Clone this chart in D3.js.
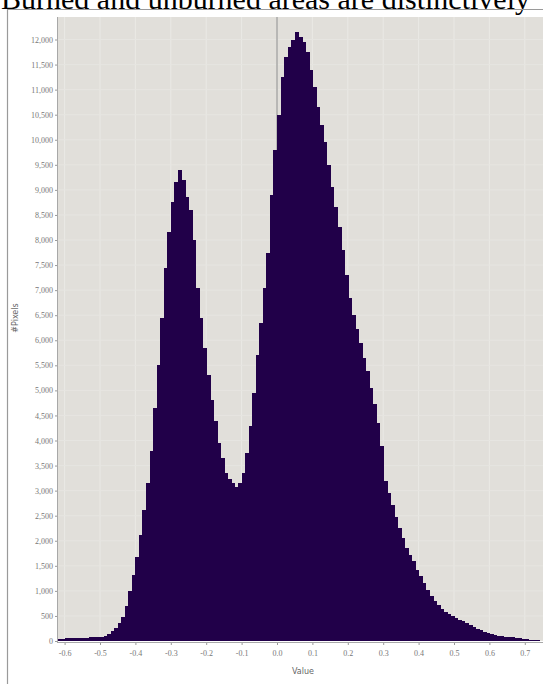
<html>
<head>
<meta charset="utf-8">
<script src="https://cdn.jsdelivr.net/npm/d3@7"></script>
<style>
  body { margin: 0; background: #fff; }
</style>
</head>
<body>
<script>
var width = 543
var height = 684

// histogram: lower edge of each 0.01 bin and its pixel count
var binStart = -0.62
var binWidth = 0.01
var counts = [
  40, 45, 50, 50, 55, 55, 60, 60, 65, 70,
  70, 75, 80, 90, 130, 190, 260, 350, 480, 700,
  1000, 1320, 1680, 2120, 2620, 3150, 3800, 4650, 5500, 6450,
  7450, 8150, 8750, 9150, 9400, 9200, 8850, 8600, 8000, 7050,
  6450, 5850, 5300, 4800, 4380, 3950, 3650, 3350, 3230, 3150,
  3080, 3150, 3350, 3750, 4280, 4950, 5700, 6350, 7050, 7750,
  8900, 9800, 10500, 11250, 11650, 11850, 12000, 12150, 12050, 11950,
  11750, 11400, 11050, 10650, 10300, 9950, 9500, 9050, 8650, 8250,
  7800, 7300, 6850, 6500, 6230, 5950, 5650, 5380, 5050, 4720,
  4350, 3900, 3200, 2950, 2720, 2480, 2260, 2050, 1860, 1720,
  1600, 1420, 1300, 1150, 1020, 900, 800, 720, 640, 580,
  530, 490, 450, 420, 390, 350, 310, 280, 240, 210,
  180, 160, 140, 120, 105, 95, 85, 80, 75, 65,
  55, 45, 30, 20, 15, 10, 8
]
var xTicks = [-0.6, -0.5, -0.4, -0.3, -0.2, -0.1, 0.0, 0.1, 0.2, 0.3, 0.4, 0.5, 0.6, 0.7]
var yTicks = d3.range(0, 12001, 500)

var bins = counts.map(function(c, i) {
  return {x0: binStart + i * binWidth, x1: binStart + (i + 1) * binWidth, n: c}
})

var plot = {left: 58, top: 17, right: 543, bottom: 641}

var svg = d3.select("body").append("svg")
  .attr("width", width)
  .attr("height", height)

// title, cut at the top edge as in the source image
svg.append("text")
  .attr("x", 1)
  .attr("y", 9)
  .attr("font-family", "Liberation Serif, Times New Roman, serif")
  .attr("font-size", 30)
  .attr("fill", "#000")
  .text("Burned and unburned areas are distinctively")

// outer frame
svg.append("path")
  .attr("d", "M7.5," + height + "V9.5H" + width)
  .attr("fill", "none")
  .attr("stroke", "#9a9a9a")
  .attr("stroke-width", 1.2)

var scalex = d3.scaleLinear().domain([-0.6, 0.7]).range([64.6, 524.8])
var scaley = d3.scaleLinear().domain([0, 12000]).range([plot.bottom, 39.5])

svg.append("defs").append("clipPath").attr("id", "clip")
  .append("rect")
  .attr("x", plot.left).attr("y", plot.top)
  .attr("width", plot.right - plot.left).attr("height", plot.bottom - plot.top)

var g = svg.append("g").attr("clip-path", "url(#clip)")

g.append("rect")
  .attr("x", plot.left).attr("y", plot.top)
  .attr("width", plot.right - plot.left).attr("height", plot.bottom - plot.top)
  .attr("fill", "#e1dfda")

// faint grid
g.selectAll(".vgrid").data(xTicks).enter().append("line")
  .attr("x1", d => scalex(d)).attr("x2", d => scalex(d))
  .attr("y1", plot.top).attr("y2", plot.bottom)
  .attr("stroke", "#eae9e5").attr("stroke-width", 1)
g.selectAll(".hgrid").data(yTicks).enter().append("line")
  .attr("x1", plot.left).attr("x2", plot.right)
  .attr("y1", d => scaley(d)).attr("y2", d => scaley(d))
  .attr("stroke", "#e6e5e1").attr("stroke-width", 1)

// zero marker
g.append("line")
  .attr("x1", scalex(0)).attr("x2", scalex(0))
  .attr("y1", plot.top).attr("y2", plot.bottom)
  .attr("stroke", "#8a8a8a").attr("stroke-width", 1)

g.selectAll(".bar").data(bins).enter().append("rect")
  .attr("class", "bar")
  .attr("x", d => scalex(d.x0))
  .attr("width", d => scalex(d.x1) - scalex(d.x0) + 0.8)
  .attr("y", d => scaley(d.n))
  .attr("height", d => plot.bottom - scaley(d.n))
  .attr("fill", "#210049")
  .attr("shape-rendering", "crispEdges")

// axes
var fmtY = d3.format(",")
var fmtX = function(d) { return d3.format(".1f")(d).replace("\u2212", "-") }

var yAxis = d3.axisLeft(scaley).tickValues(yTicks).tickSize(3).tickPadding(2).tickFormat(fmtY)
var xAxis = d3.axisBottom(scalex).tickValues(xTicks).tickSize(3).tickPadding(5).tickFormat(fmtX)

var ya = svg.append("g").attr("transform", "translate(" + plot.left + ",0)").call(yAxis)
var xa = svg.append("g").attr("transform", "translate(0," + (plot.bottom + 1) + ")").call(xAxis)

;[ya, xa].forEach(function(a) {
  a.select(".domain").remove()
  a.selectAll("line").attr("stroke", "#9a9a9a")
  a.selectAll("text")
    .attr("font-family", "Liberation Serif, serif")
    .attr("font-size", 8)
    .attr("fill", "#777")
})

svg.append("line")
  .attr("x1", plot.left - 0.5).attr("x2", plot.left - 0.5)
  .attr("y1", plot.top).attr("y2", plot.bottom + 2)
  .attr("stroke", "#a8a8a8")
svg.append("line")
  .attr("x1", plot.left).attr("x2", plot.right)
  .attr("y1", plot.bottom + 1.5).attr("y2", plot.bottom + 1.5)
  .attr("stroke", "#a8a8a8")

// axis titles
svg.append("text")
  .attr("transform", "translate(18,318) rotate(-90)")
  .attr("text-anchor", "middle")
  .attr("font-family", "DejaVu Sans, sans-serif")
  .attr("font-size", 8)
  .attr("fill", "#666")
  .text("#Pixels")

svg.append("text")
  .attr("x", 292)
  .attr("y", 674)
  .attr("font-family", "DejaVu Sans, sans-serif")
  .attr("font-size", 8)
  .attr("fill", "#666")
  .text("Value")
</script>
</body>
</html>
